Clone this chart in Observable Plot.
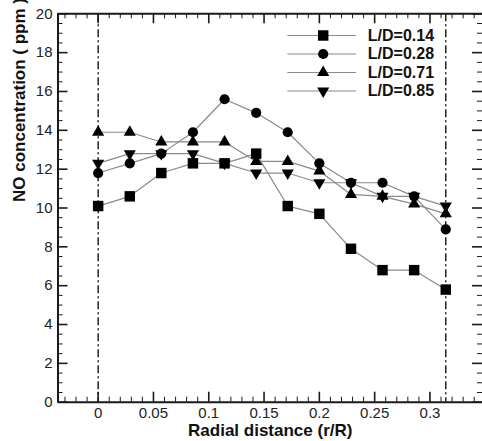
<!DOCTYPE html>
<html><head><meta charset="utf-8">
<script src="https://cdn.jsdelivr.net/npm/d3@7"></script>
<script src="https://cdn.jsdelivr.net/npm/@observablehq/plot@0.6"></script>
<style>html,body{margin:0;padding:0;background:#fff}#chart svg{display:block}</style>
</head><body><div id="chart"></div>
<script>
// ---- data ----
const radialDistance = [0, 0.0286, 0.0571, 0.0857, 0.1143, 0.1429, 0.1714, 0.2, 0.2286, 0.2571, 0.2857, 0.3143];
const ld014 = [10.1, 10.6, 11.8, 12.3, 12.3, 12.8, 10.1, 9.7, 7.9, 6.8, 6.8, 5.8];
const ld028 = [11.8, 12.3, 12.8, 13.9, 15.6, 14.9, 13.9, 12.3, 11.3, 11.3, 10.6, 8.9];
const ld071 = [13.9, 13.9, 13.4, 13.4, 13.4, 12.4, 12.4, 11.9, 10.7, 10.6, 10.2, 9.7];
const ld085 = [12.3, 12.8, 12.8, 12.8, 12.3, 11.8, 11.8, 11.3, 11.3, 10.6, 10.6, 10.1];
const seriesNames = ["L/D=0.14", "L/D=0.28", "L/D=0.71", "L/D=0.85"];
const seriesValues = [ld014, ld028, ld071, ld085];
const boundaryX = [0, 0.3143];
const xTicks = [0, 0.05, 0.1, 0.15, 0.2, 0.25, 0.3];
const yTicks = [0, 2, 4, 6, 8, 10, 12, 14, 16, 18, 20];
const xTitle = "Radial distance (r/R)";
const yTitle = "NO concentration ( ppm )";

// ---- layout / style ----
const W = 482, H = 441, ML = 57.5, MR = 0, MT = 13.3, MB = 39.3;
const xDomain = [-0.0363, 0.3475], yDomain = [0, 20];
const xMinor = d3.range(-3, 35).map(i => i / 100).filter(v => Math.abs(v * 20 - Math.round(v * 20)) > 1e-6);
const yMinor = d3.range(0, 41).map(i => i / 2).filter(v => v % 2 !== 0);

const sqrt3 = Math.sqrt(3);
const triUp = {draw(c, size) { const y = -Math.sqrt(size / (sqrt3 * 3)); c.moveTo(0, y * 2); c.lineTo(-sqrt3 * y, -y); c.lineTo(sqrt3 * y, -y); c.closePath(); }};
const triDown = {draw(c, size) { const y = Math.sqrt(size / (sqrt3 * 3)); c.moveTo(0, y * 2); c.lineTo(-sqrt3 * y, -y); c.lineTo(sqrt3 * y, -y); c.closePath(); }};
const symbols = ["square", "circle", triUp, triDown];
const radii = [5.9, 5.1, 4.5, 4.5];
const lineGray = "#8a8a8a";
const ink = "#1a1a1a";

const rows = seriesValues.map((vals, k) => vals.map((v, i) => ({x: radialDistance[i], y: v, s: seriesNames[k]})));

const marks = [];
// dash-dot boundaries
marks.push(Plot.ruleX(boundaryX, {stroke: "#000", strokeWidth: 1.3, strokeDasharray: "8,3,2,3"}));
// frame
marks.push(Plot.ruleY([yDomain[0]], {stroke: ink, strokeWidth: 2}));
marks.push(Plot.ruleY([yDomain[1]], {stroke: ink, strokeWidth: 2}));
marks.push(Plot.ruleX([xDomain[0]], {stroke: ink, strokeWidth: 2}));
// inward ticks
const tk = w => ({stroke: ink, strokeWidth: w});
marks.push(Plot.ruleX(xTicks, {y1: yDomain[0], y2: yDomain[0], insetTop: -10, ...tk(1.6)}));
marks.push(Plot.ruleX(xMinor, {y1: yDomain[0], y2: yDomain[0], insetTop: -5, ...tk(1)}));
marks.push(Plot.ruleX(xTicks, {y1: yDomain[1], y2: yDomain[1], insetBottom: -10, ...tk(1.6)}));
marks.push(Plot.ruleX(xMinor, {y1: yDomain[1], y2: yDomain[1], insetBottom: -5, ...tk(1)}));
marks.push(Plot.ruleY(yTicks, {x1: xDomain[0], x2: xDomain[0], insetRight: -10, ...tk(1.6)}));
marks.push(Plot.ruleY(yMinor, {x1: xDomain[0], x2: xDomain[0], insetRight: -5, ...tk(1)}));
marks.push(Plot.ruleY(yTicks, {x1: xDomain[1], x2: xDomain[1], insetLeft: -10, ...tk(1.6)}));
marks.push(Plot.ruleY(yMinor, {x1: xDomain[1], x2: xDomain[1], insetLeft: -5, ...tk(1)}));
// axes labels
marks.push(Plot.axisX({ticks: xTicks, tickSize: 0, tickPadding: 5.5, tickFormat: d => String(d), fontSize: 15, fill: "#222", label: null}));
marks.push(Plot.axisY({ticks: yTicks, tickSize: 0, tickPadding: 5.5, tickFormat: d => String(d), fontSize: 15, fill: "#222", label: null}));
// titles
marks.push(Plot.text([xTitle], {frameAnchor: "bottom", lineAnchor: "middle", dy: 28, text: d => d, fontSize: 17, fontWeight: "bold", fill: "#111"}));
marks.push(Plot.text([yTitle], {frameAnchor: "left", lineAnchor: "middle", dx: -38, dy: -6, rotate: -90, text: d => d, fontSize: 17, fontWeight: "bold", fill: "#111"}));
// series
rows.forEach(r => marks.push(Plot.line(r, {x: "x", y: "y", stroke: lineGray, strokeWidth: 1.2})));
rows.forEach((r, k) => marks.push(Plot.dot(r, {x: "x", y: "y", symbol: symbols[k], r: radii[k], fill: "#000", stroke: "none"})));
// legend
const legRow0 = 35, legStep = 18.5, legX1 = 287.3, legX2 = 356, legMark = 322.7, legText = 367.3;
seriesNames.forEach((name, k) => {
  const dy = legRow0 + legStep * k - MT;
  marks.push(Plot.ruleY([yDomain[1]], {dy, insetLeft: legX1 - ML, insetRight: W - MR - legX2, stroke: lineGray, strokeWidth: 1.2}));
  marks.push(Plot.dot([name], {frameAnchor: "top-left", dx: legMark - ML, dy, symbol: symbols[k], r: radii[k], fill: "#000", stroke: "none"}));
  marks.push(Plot.text([name], {frameAnchor: "top-left", lineAnchor: "middle", dx: legText - ML, dy, text: d => d, textAnchor: "start", fontSize: 16, fontWeight: "bold", fill: "#111"}));
});

const chart = Plot.plot({
  width: W, height: H,
  marginLeft: ML, marginRight: MR, marginTop: MT, marginBottom: MB,
  x: {domain: xDomain, axis: null},
  y: {domain: yDomain, axis: null},
  style: {fontFamily: "'Liberation Sans', Arial, sans-serif", background: "#fff", overflow: "visible"},
  marks
});
document.getElementById("chart").appendChild(chart);
</script>
</body></html>
